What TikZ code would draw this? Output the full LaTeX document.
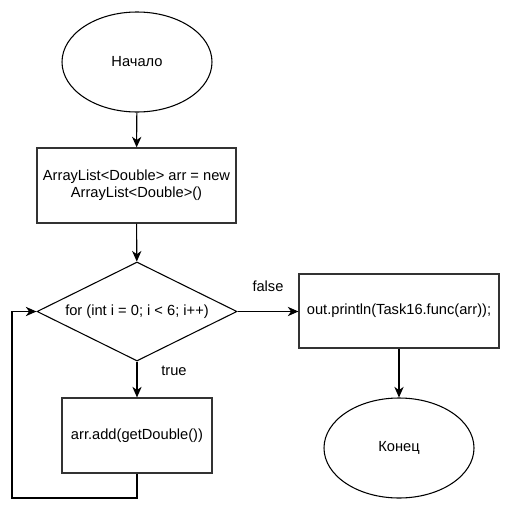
\documentclass[tikz,border=0pt]{standalone}
\usepackage{fontspec}
\setmainfont{Liberation Sans}
\usetikzlibrary{shapes.geometric,arrows.meta}
\begin{document}
\begin{tikzpicture}[x=0.75pt,y=-0.75pt,
  every node/.style={font=\fontsize{11}{12.5}\selectfont, text=black},
  boxnode/.style={draw=black!80, line width=0.9pt, rectangle, inner sep=0pt, align=center},
  ovalnode/.style={draw=black, line width=0.8pt, ellipse, inner sep=0pt},
  decnode/.style={draw=black, line width=0.8pt, diamond, inner sep=0pt, aspect=2},
  flow/.style={draw=black, line width=0.8pt, -{Stealth[length=8pt,width=7pt,inset=2.5pt]}},
  lbl/.style={inner sep=0pt}]
\useasboundingbox (0,0) rectangle (511,507);
\node[ovalnode, minimum width=150*0.75pt, minimum height=100*0.75pt] (start) at (137,62) {Начало};
\node[boxnode, minimum width=199*0.75pt, minimum height=75*0.75pt] (init) at (136.5,185.5) {ArrayList<Double> arr = new\\ArrayList<Double>()};
\node[decnode, minimum width=200*0.75pt, minimum height=99*0.75pt] (loop) at (137,311.5) {for (int i = 0; i < 6; i++)};
\node[boxnode, minimum width=150*0.75pt, minimum height=75*0.75pt] (add) at (137,435.5) {arr.add(getDouble())};
\node[boxnode, minimum width=200*0.75pt, minimum height=74*0.75pt] (out) at (399,311) {out.println(Task16.func(arr));};
\node[ovalnode, minimum width=150*0.75pt, minimum height=100*0.75pt] (end) at (399,448) {Конец};
\coordinate (c1) at (137,498);
\coordinate (c2) at (12,498);
\coordinate (c3) at (12,311.5);
\draw[flow] (start) -- (init);
\draw[flow] (init) -- (loop);
\draw[flow] (loop) -- (add);
\draw[flow] (loop.east) -- (out.west |- loop.east);
\draw[flow] (out) -- (end);
\draw[flow] (add.south) -- (c1) -- (c2) -- (c3) -- (loop.west);
\node[lbl] (lfalse) at (268,286) {false};
\node[lbl] (ltrue) at (174,371) {true};
\end{tikzpicture}
\end{document}
